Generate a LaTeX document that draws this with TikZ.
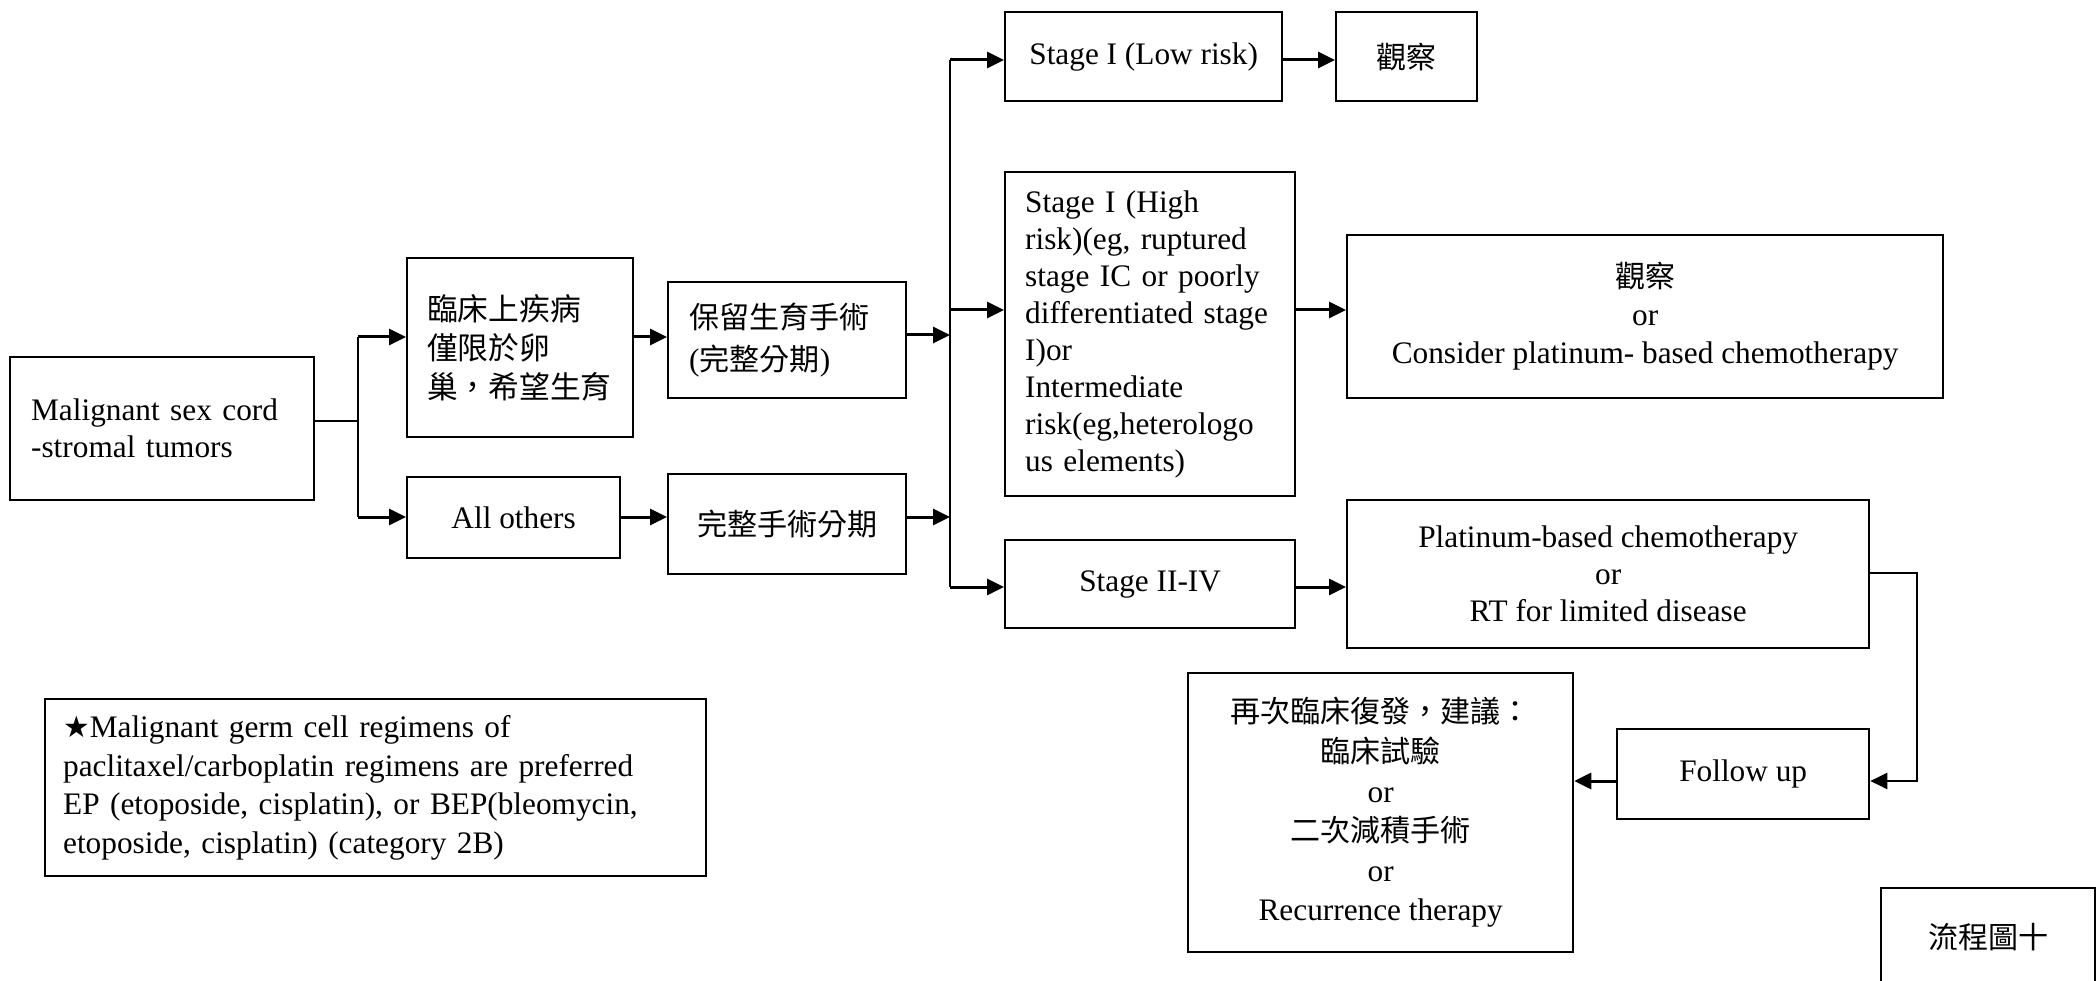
\documentclass[tikz,border=0pt]{standalone}
\usepackage{fontspec}
\setmainfont{Liberation Serif}
\newfontfamily\cjk{Noto Sans CJK TC}[Scale=0.96]
\newfontfamily\symfont{DejaVu Sans}[Scale=0.95]
\usetikzlibrary{arrows.meta}

\begin{document}
\begin{tikzpicture}[x=1pt,y=-1pt,
  box/.style={draw, line width=2.3pt, inner sep=0pt, anchor=north west,
    font=\fontsize{31.3}{37}\selectfont},
  lbox/.style={box, align=left},
  cbox/.style={box, align=center},
  link/.style={line width=2.5pt},
  arr/.style={line width=3pt, -{Triangle[length=17pt,width=16pt]}},
  thinarr/.style={line width=2.2pt, -{Triangle[length=17pt,width=16pt]}},
]
\useasboundingbox (0,0) rectangle (2096,981);
\clip (0,0) rectangle (2096,981);

% first column
\node[lbox, minimum width=304pt, minimum height=143pt, text width=262pt, inner xsep=21pt]
  (mal) at (9,356) {Malignant sex cord\\-stromal tumors};

% second column
\node[lbox, minimum width=226pt, minimum height=179pt, text width=186pt, inner xsep=20pt,
  font={\fontsize{32}{39}\selectfont\cjk}]
  (c1) at (406,257) {臨床上疾病\\僅限於卵\\巢，希望生育};
\node[cbox, minimum width=213pt, minimum height=81pt]
  (ao) at (406,476) {All others};

% third column
\node[lbox, minimum width=238pt, minimum height=116pt, text width=196pt, inner xsep=21pt,
  font=\fontsize{31.3}{42}\selectfont]
  (bl) at (667,281) {{\cjk 保留生育手術}\\({\cjk 完整分期})};
\node[cbox, minimum width=238pt, minimum height=100pt]
  (wz) at (667,473) {\cjk 完整手術分期};

% stages
\node[cbox, minimum width=277pt, minimum height=89pt]
  (s1) at (1004,11) {Stage I (Low risk)};
\node[lbox, minimum width=290pt, minimum height=324pt, text width=250pt, inner xsep=20pt]
  (s2) at (1004,171) {Stage I (High\\risk)(eg, ruptured\\stage IC or poorly\\differentiated stage\\I)or\\Intermediate\\risk(eg,heterologo\\us elements)};
\node[cbox, minimum width=290pt, minimum height=88pt]
  (s3) at (1004,539) {Stage II-IV};

% treatments
\node[cbox, minimum width=141pt, minimum height=89pt]
  (gc1) at (1335,11) {\cjk 觀察};
\node[cbox, minimum width=596pt, minimum height=163pt, font=\fontsize{31.3}{38}\selectfont]
  (gc2) at (1346,234) {{\cjk 觀察}\\or\\Consider platinum- based chemotherapy};
\node[cbox, minimum width=522pt, minimum height=148pt]
  (plat) at (1346,499) {Platinum-based chemotherapy\\or\\RT for limited disease};

% follow-up and recurrence
\node[cbox, minimum width=252pt, minimum height=90pt]
  (fu) at (1616,728) {Follow up};
\node[cbox, minimum width=385pt, minimum height=279pt, font=\fontsize{31.3}{39.6}\selectfont]
  (rec) at (1187,672) {{\cjk 再次臨床復發，建議：}\\{\cjk 臨床試驗}\\or\\{\cjk 二次減積手術}\\or\\Recurrence therapy};

% note and figure label
\node[lbox, minimum width=661pt, minimum height=177pt, text width=625pt, inner xsep=18pt,
  font=\fontsize{31.3}{38.5}\selectfont]
  (note) at (44,698) {{\symfont ★}Malignant germ cell regimens of\\paclitaxel/carboplatin regimens are preferred\\EP (etoposide, cisplatin), or BEP(bleomycin,\\etoposide, cisplatin) (category 2B)};
\node[cbox, minimum width=214pt, minimum height=97pt]
  (fig) at (1880,887) {\cjk 流程圖十};

% junction points
\coordinate (j)  at (358,421);
\coordinate (ja) at (358,337);
\coordinate (jb) at (358,517);
\coordinate (h1) at (950,335);
\coordinate (h2) at (950,517);
\coordinate (v1) at (950,60);
\coordinate (v3) at (950,310);
\coordinate (v2) at (950,587);
\coordinate (r1) at (1917,573);
\coordinate (r2) at (1917,781);

% connectors
\draw[link] (mal.east |- j) -- (j);
\draw[link] (ja) -- (jb);
\draw[arr] (ja) -- (c1.west |- ja);
\draw[arr] (jb) -- (ao.west |- jb);
\draw[arr] (c1.east |- ja) -- (bl.west |- ja);
\draw[arr] (ao.east |- jb) -- (wz.west |- jb);
\draw[arr] (bl.east |- h1) -- (h1);
\draw[arr] (wz.east |- h2) -- (h2);
\draw[link] (v1) -- (v2);
\draw[arr] (v1) -- (s1.west |- v1);
\draw[arr] (v3) -- (s2.west |- v3);
\draw[arr] (v2) -- (s3.west |- v2);
\draw[arr] (s1.east |- v1) -- (gc1.west |- v1);
\draw[arr] (s2.east |- v3) -- (gc2.west |- v3);
\draw[arr] (s3.east |- v2) -- (plat.west |- v2);
\draw[thinarr] (plat.east |- r1) -- (r1) -- (r2) -- (fu.east |- r2);
\draw[arr] (fu.west |- r2) -- (rec.east |- r2);
\end{tikzpicture}
\end{document}
